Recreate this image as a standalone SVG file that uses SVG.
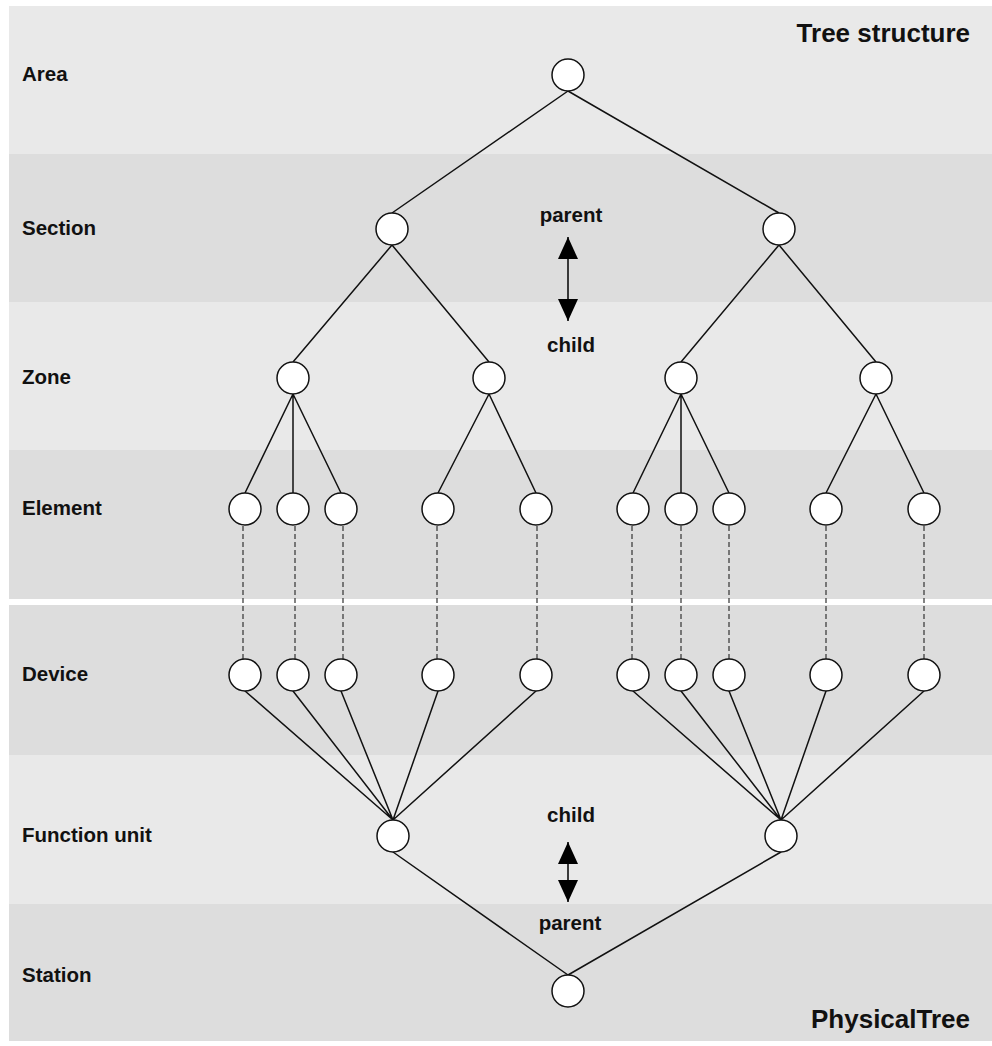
<svg xmlns="http://www.w3.org/2000/svg" width="992" height="1046" viewBox="0 0 992 1046">
<style>
.l{fill:#e9e9e9}
.d{fill:#dddddd}
.lab{font-family:"Liberation Sans",Arial,sans-serif;font-weight:bold;font-size:20.5px;fill:#111}
.ttl{font-family:"Liberation Sans",Arial,sans-serif;font-weight:bold;font-size:26px;fill:#111;text-anchor:end}
.mid{text-anchor:middle}
.n{fill:#fff;stroke:#111;stroke-width:1.5}
.e{stroke:#111;stroke-width:1.5;fill:none}
.ds{stroke:#333;stroke-width:1.2;stroke-dasharray:5 3;fill:none}
.ar{stroke:#000;stroke-width:1.5;marker-start:url(#ah);marker-end:url(#ah)}
</style>
<defs>
<marker id="ah" viewBox="0 0 22 20" refX="22" refY="10" markerWidth="22" markerHeight="20" markerUnits="userSpaceOnUse" orient="auto-start-reverse">
<path d="M0,0 L22,10 L0,20 Z" fill="#000"/>
</marker>
</defs>
<rect width="992" height="1046" fill="#fff"/>
<g id="bands">
<rect class="l" x="9" y="6" width="983" height="148"/>
<rect class="d" x="9" y="154" width="983" height="148"/>
<rect class="l" x="9" y="302" width="983" height="148"/>
<rect class="d" x="9" y="450" width="983" height="149"/>
<rect class="d" x="9" y="605" width="983" height="150"/>
<rect class="l" x="9" y="755" width="983" height="149"/>
<rect class="d" x="9" y="904" width="983" height="137"/>
</g>
<g id="labels">
<text class="lab" x="22" y="81">Area</text>
<text class="lab" x="22" y="235">Section</text>
<text class="lab" x="22" y="384">Zone</text>
<text class="lab" x="22" y="515">Element</text>
<text class="lab" x="22" y="681">Device</text>
<text class="lab" x="22" y="842">Function unit</text>
<text class="lab" x="22" y="982">Station</text>
<text class="ttl" x="970" y="42">Tree structure</text>
<text class="ttl" x="970" y="1028">PhysicalTree</text>
<text class="lab mid" x="571" y="222">parent</text>
<text class="lab mid" x="571" y="352">child</text>
<text class="lab mid" x="571" y="822">child</text>
<text class="lab mid" x="570" y="930">parent</text>
</g>
<g id="connectors">
<path class="e" d="M568,91 L392,213 M568,91 L779,213"/>
<path class="e" d="M392,245 L293,362 M392,245 L489,362 M779,245 L681,362 M779,245 L876,362"/>
<path class="e" d="M293,394 L245,493 M293,394 L293,493 M293,394 L341,493 M489,394 L438,493 M489,394 L536,493"/>
<path class="e" d="M681,394 L633,493 M681,394 L681,493 M681,394 L729,493 M876,394 L826,493 M876,394 L924,493"/>
<path class="ds" d="M243,526 V659 M295,526 V659 M343,526 V659 M437,526 V659 M537,526 V659 M632,526 V659 M681,526 V659 M729,526 V659 M826,526 V659 M924,526 V659"/>
<path class="e" d="M245,691 L393,820 M293,691 L393,820 M341,691 L393,820 M438,691 L393,820 M536,691 L393,820"/>
<path class="e" d="M633,691 L781,820 M681,691 L781,820 M729,691 L781,820 M826,691 L781,820 M924,691 L781,820"/>
<path class="e" d="M393,852 L568,975 M781,852 L568,975"/>
<line class="ar" x1="568" y1="237" x2="568" y2="321"/>
<line class="ar" x1="568" y1="842" x2="568" y2="902"/>
</g>
<g id="node-area"><circle class="n" cx="568" cy="75" r="16"/></g>
<g id="node-section-1"><circle class="n" cx="392" cy="229" r="16"/></g>
<g id="node-section-2"><circle class="n" cx="779" cy="229" r="16"/></g>
<g id="node-zone-1"><circle class="n" cx="293" cy="378" r="16"/></g>
<g id="node-zone-2"><circle class="n" cx="489" cy="378" r="16"/></g>
<g id="node-zone-3"><circle class="n" cx="681" cy="378" r="16"/></g>
<g id="node-zone-4"><circle class="n" cx="876" cy="378" r="16"/></g>
<g id="node-element-1"><circle class="n" cx="245" cy="509" r="16"/></g>
<g id="node-element-2"><circle class="n" cx="293" cy="509" r="16"/></g>
<g id="node-element-3"><circle class="n" cx="341" cy="509" r="16"/></g>
<g id="node-element-4"><circle class="n" cx="438" cy="509" r="16"/></g>
<g id="node-element-5"><circle class="n" cx="536" cy="509" r="16"/></g>
<g id="node-element-6"><circle class="n" cx="633" cy="509" r="16"/></g>
<g id="node-element-7"><circle class="n" cx="681" cy="509" r="16"/></g>
<g id="node-element-8"><circle class="n" cx="729" cy="509" r="16"/></g>
<g id="node-element-9"><circle class="n" cx="826" cy="509" r="16"/></g>
<g id="node-element-10"><circle class="n" cx="924" cy="509" r="16"/></g>
<g id="node-device-1"><circle class="n" cx="245" cy="675" r="16"/></g>
<g id="node-device-2"><circle class="n" cx="293" cy="675" r="16"/></g>
<g id="node-device-3"><circle class="n" cx="341" cy="675" r="16"/></g>
<g id="node-device-4"><circle class="n" cx="438" cy="675" r="16"/></g>
<g id="node-device-5"><circle class="n" cx="536" cy="675" r="16"/></g>
<g id="node-device-6"><circle class="n" cx="633" cy="675" r="16"/></g>
<g id="node-device-7"><circle class="n" cx="681" cy="675" r="16"/></g>
<g id="node-device-8"><circle class="n" cx="729" cy="675" r="16"/></g>
<g id="node-device-9"><circle class="n" cx="826" cy="675" r="16"/></g>
<g id="node-device-10"><circle class="n" cx="924" cy="675" r="16"/></g>
<g id="node-function-unit-1"><circle class="n" cx="393" cy="836" r="16"/></g>
<g id="node-function-unit-2"><circle class="n" cx="781" cy="836" r="16"/></g>
<g id="node-station"><circle class="n" cx="568" cy="991" r="16"/></g>
</svg>
